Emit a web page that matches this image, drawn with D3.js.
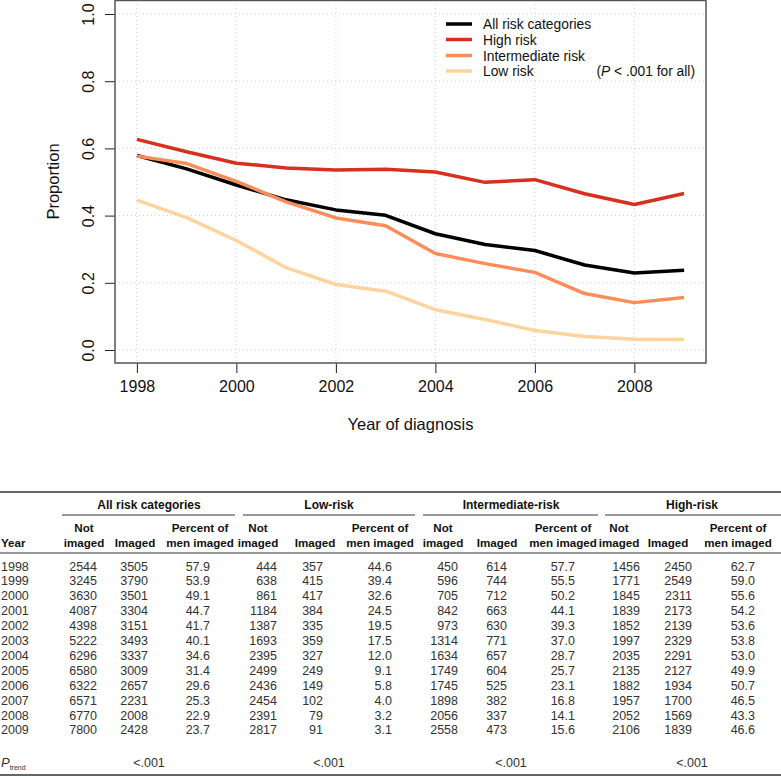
<!DOCTYPE html>
<html><head><meta charset="utf-8">
<script src="https://cdn.jsdelivr.net/npm/d3@7"></script>
<style>
body{margin:0;background:#fff;}
svg{display:block;font-family:"Liberation Sans",Arial,sans-serif;}
</style></head>
<body>
<svg id="c" width="781" height="778"></svg>
<script>
const years = [1998,1999,2000,2001,2002,2003,2004,2005,2006,2007,2008,2009];
const allNot = [2544,3245,3630,4087,4398,5222,6296,6580,6322,6571,6770,7800];
const allImg = [3505,3790,3501,3304,3151,3493,3337,3009,2657,2231,2008,2428];
const allPct = ["57.9","53.9","49.1","44.7","41.7","40.1","34.6","31.4","29.6","25.3","22.9","23.7"];
const lowNot = [444,638,861,1184,1387,1693,2395,2499,2436,2454,2391,2817];
const lowImg = [357,415,417,384,335,359,327,249,149,102,79,91];
const lowPct = ["44.6","39.4","32.6","24.5","19.5","17.5","12.0","9.1","5.8","4.0","3.2","3.1"];
const intNot = [450,596,705,842,973,1314,1634,1749,1745,1898,2056,2558];
const intImg = [614,744,712,663,630,771,657,604,525,382,337,473];
const intPct = ["57.7","55.5","50.2","44.1","39.3","37.0","28.7","25.7","23.1","16.8","14.1","15.6"];
const highNot = [1456,1771,1845,1839,1852,1997,2035,2135,1882,1957,2052,2106];
const highImg = [2450,2549,2311,2173,2139,2329,2291,2127,1934,1700,1569,1839];
const highPct = ["62.7","59.0","55.6","54.2","53.6","53.8","53.0","49.9","50.7","46.5","43.3","46.6"];
const seriesNames = ["All risk categories","High risk","Intermediate risk","Low risk"];
const seriesColors = ["#000000","#d7301f","#fc8d59","#fdd49e"];
const xTicks = [1998,2000,2002,2004,2006,2008];
const yTicks = [0,0.2,0.4,0.6,0.8,1.0];
const groupNames = ["All risk categories","Low-risk","Intermediate-risk","High-risk"];
const pTrend = ["<.001","<.001","<.001","<.001"];

const svg = d3.select("#c");
const L=115, R=706, T=0, B=363;
const x = d3.scaleLinear().domain([1998-0.44, 2009+0.44]).range([L,R]);
const y = d3.scaleLinear().domain([-0.0387, 1.0417]).range([B,T]);

// grid
const g = svg.append("g");
g.selectAll(".gx").data(xTicks).join("line")
  .attr("x1",d=>x(d)).attr("x2",d=>x(d)).attr("y1",T).attr("y2",B)
  .attr("stroke","#cfcfcf").attr("stroke-dasharray","1,3").attr("stroke-width",1);
g.selectAll(".gy").data(yTicks).join("line")
  .attr("x1",L).attr("x2",R).attr("y1",d=>y(d)).attr("y2",d=>y(d))
  .attr("stroke","#cfcfcf").attr("stroke-dasharray","1,3").attr("stroke-width",1);

// axes
const xa = svg.append("g").attr("transform",`translate(0,${B})`)
  .call(d3.axisBottom(x).tickValues(xTicks).tickFormat(d3.format("d")).tickSize(10).tickPadding(8));
xa.select(".domain").remove();
xa.selectAll("line").attr("stroke","#222");
xa.selectAll("text").attr("font-size","16px").attr("fill","#111").attr("font-family","Liberation Sans, Arial, sans-serif");

const ya = svg.append("g").attr("transform",`translate(${L},0)`)
  .call(d3.axisLeft(y).tickValues(yTicks).tickFormat(d3.format(".1f")).tickSize(10).tickPadding(0));
ya.select(".domain").remove();
ya.selectAll("line").attr("stroke","#222");
ya.selectAll("text").attr("font-size","16px").attr("fill","#111").attr("font-family","Liberation Sans, Arial, sans-serif")
  .attr("text-anchor","middle").attr("x",0).attr("dy",0)
  .attr("transform","translate(-27,0) rotate(-90)")
  .attr("dominant-baseline","central");

// box
svg.append("rect").attr("x",L).attr("y",T+0.5).attr("width",R-L).attr("height",B-T-0.5)
  .attr("fill","none").attr("stroke","#555").attr("stroke-width",1.5);

// lines
const pcts = [allPct, highPct, intPct, lowPct];
const line = d3.line().x((d,i)=>x(years[i])).y(d=>y(+d/100));
pcts.forEach((p,k)=>{
  svg.append("path").datum(p).attr("d",line).attr("fill","none")
    .attr("stroke",seriesColors[k]).attr("stroke-width",3.5).attr("stroke-linejoin","round");
});

// axis titles
svg.append("text").attr("x",(L+R)/2).attr("y",430).attr("text-anchor","middle")
  .attr("font-size","16.5px").attr("fill","#111").text("Year of diagnosis");
svg.append("text").attr("transform",`translate(59,${(T+B)/2}) rotate(-90)`).attr("text-anchor","middle")
  .attr("font-size","16.5px").attr("fill","#111").text("Proportion");

// legend
const legY = [24,39.5,55.5,71];
seriesNames.forEach((n,k)=>{
  svg.append("line").attr("x1",446).attr("x2",472).attr("y1",legY[k]).attr("y2",legY[k])
    .attr("stroke",seriesColors[k]).attr("stroke-width",3.5);
  svg.append("text").attr("x",483).attr("y",legY[k]+5).attr("font-size","13.8px").attr("fill","#111").text(n);
});
const pt = svg.append("text").attr("x",695).attr("y",legY[3]+5).attr("text-anchor","end")
  .attr("font-size","13.8px").attr("fill","#111");
pt.append("tspan").text("(");
pt.append("tspan").attr("font-style","italic").text("P");
pt.append("tspan").text(" < .001 for all)");

// ---------- table ----------
const tb = svg.append("g").attr("font-size","12.5px");
const hline = (x1,x2,yy,w)=>tb.append("line").attr("x1",x1).attr("x2",x2).attr("y1",yy).attr("y2",yy).attr("stroke","#333").attr("stroke-width",w);
hline(0,781,492,1.3);
hline(0,781,553,1);
hline(0,781,775,1.5);
const groupSpan = [[62,235],[243,415],[423,598],[605,781]];
const groupCenter = [149,329,511,692];
groupSpan.forEach(s=>hline(s[0],s[1],515,1));
groupNames.forEach((n,i)=>{
  tb.append("text").attr("x",groupCenter[i]).attr("y",508.5).attr("text-anchor","middle")
    .attr("font-weight","bold").attr("font-size","12px").attr("fill","#111").text(n);
});
const hdrCenter = [[84,135,200],[258,315,380],[443,497,563],[619,668,738]];
hdrCenter.forEach(h=>{
  const add=(xx,yy,t)=>tb.append("text").attr("x",xx).attr("y",yy).attr("text-anchor","middle")
    .attr("font-weight","bold").attr("font-size","11.6px").attr("fill","#111").text(t);
  add(h[0],531.5,"Not"); add(h[0],546.5,"imaged");
  add(h[1],546.5,"Imaged");
  add(h[2],531.5,"Percent of"); add(h[2],546.5,"men imaged");
});
tb.append("text").attr("x",1).attr("y",546.5).attr("font-weight","bold").attr("font-size","11.6px").attr("fill","#111").text("Year");

const colRight = [[97,148,210],[277,323,392],[458,507,575],[640,692,755]];
const cols = [[allNot,allImg,allPct],[lowNot,lowImg,lowPct],[intNot,intImg,intPct],[highNot,highImg,highPct]];
const rowY = i => 570.5 + i*14.9;
years.forEach((yr,i)=>{
  tb.append("text").attr("x",1).attr("y",rowY(i)).attr("fill","#333").text(yr);
  cols.forEach((c,gi)=>{
    c.forEach((arr,ci)=>{
      tb.append("text").attr("x",colRight[gi][ci]).attr("y",rowY(i)).attr("text-anchor","end")
        .attr("fill","#333").text(arr[i]);
    });
  });
});
const ptr = tb.append("text").attr("x",1).attr("y",767).attr("fill","#333");
ptr.append("tspan").attr("font-style","italic").attr("font-size","13px").text("P");
ptr.append("tspan").attr("font-size","7px").attr("dy",3).text("trend");
pTrend.forEach((p,i)=>{
  tb.append("text").attr("x",groupCenter[i]).attr("y",767).attr("text-anchor","middle").attr("fill","#333").text(p);
});
</script>
</body></html>
